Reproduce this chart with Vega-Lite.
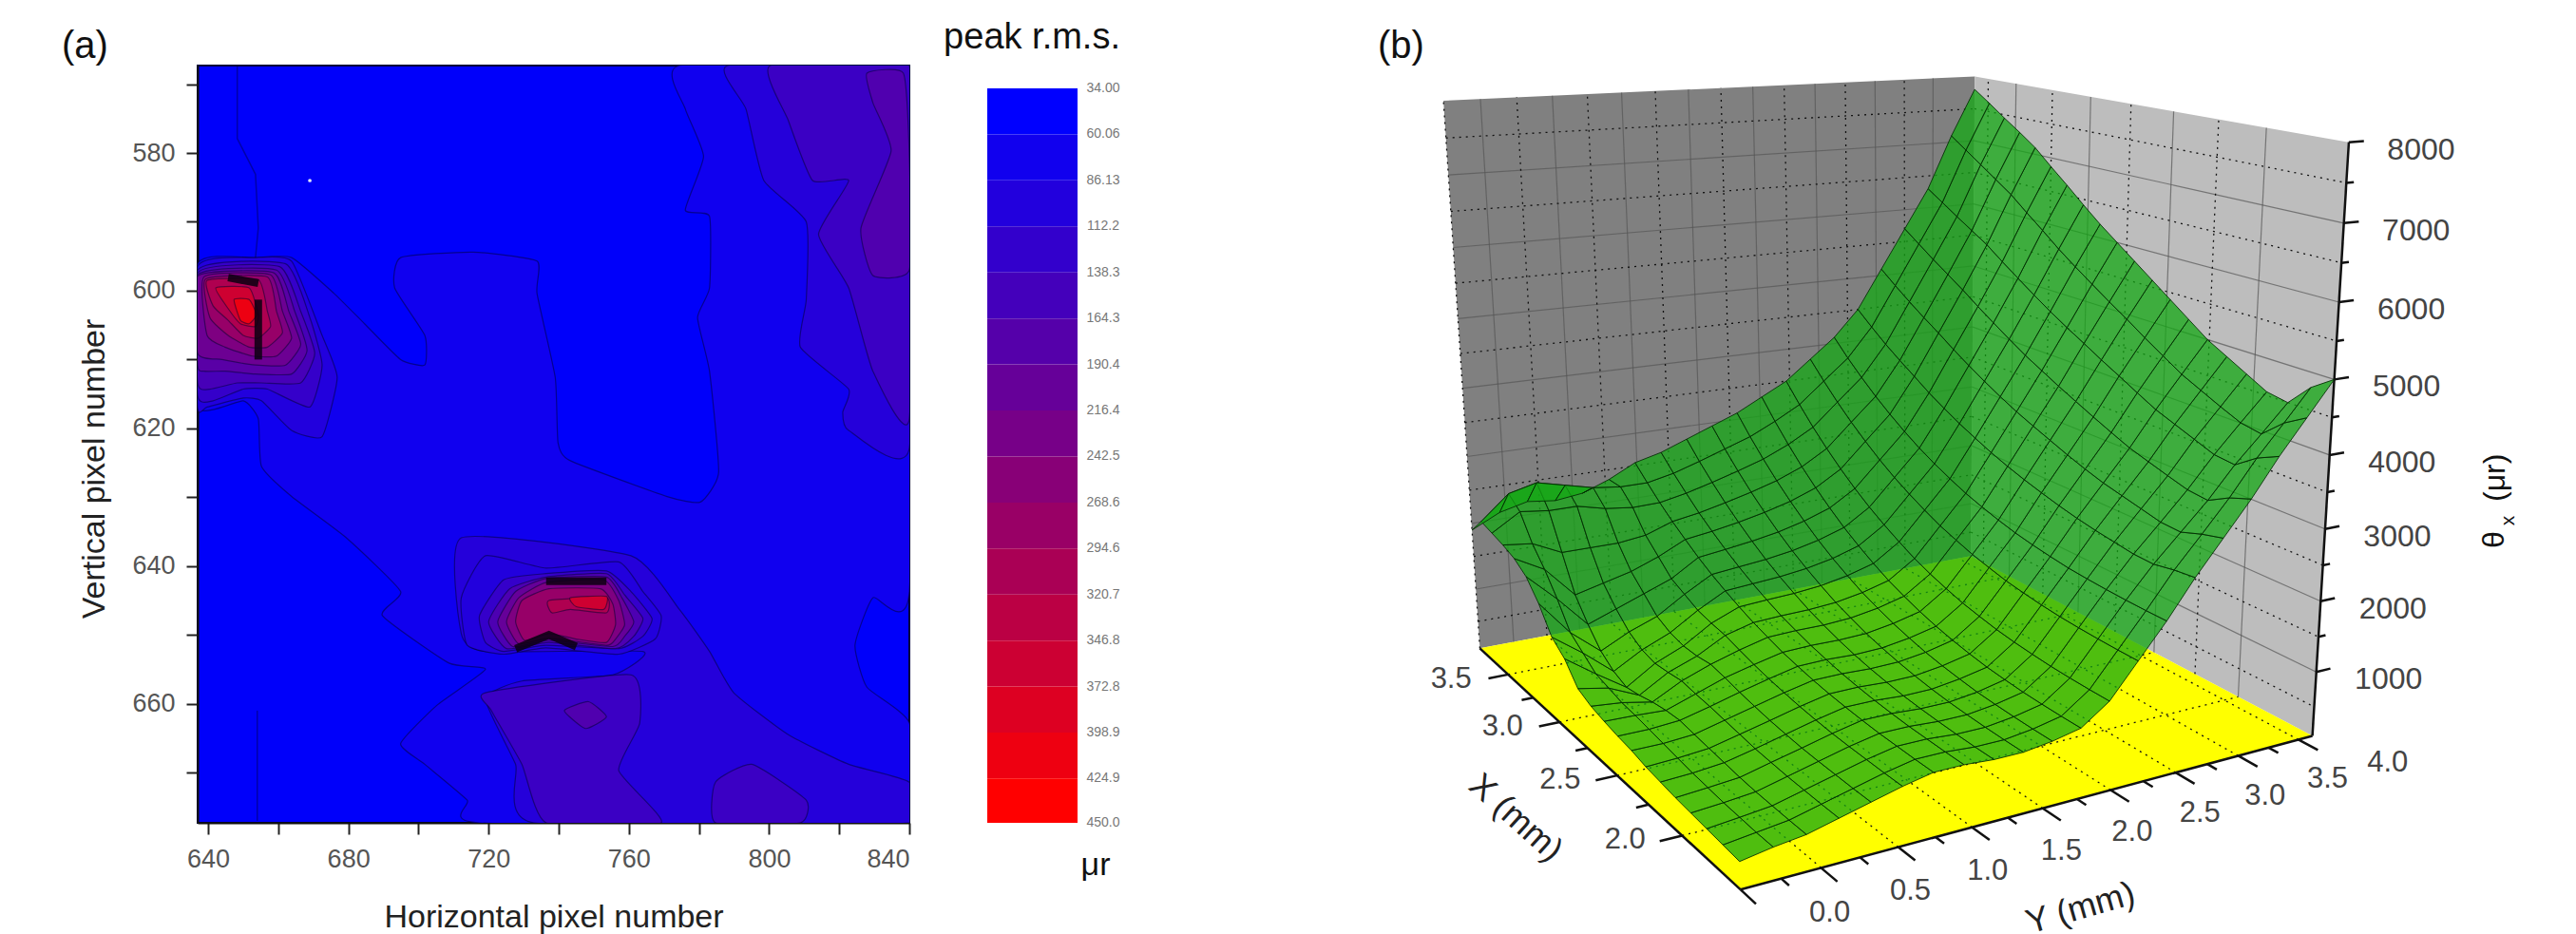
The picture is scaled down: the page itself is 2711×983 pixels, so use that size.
{"$schema":"https://vega.github.io/schema/vega-lite/v6.json","padding":{"left":64,"top":21,"right":0,"bottom":0},"bounds":"flush","spacing":82,"background":"white","config":{"view":{"stroke":null},"font":"Liberation Sans","title":{"font":"Liberation Sans","fontWeight":"normal","color":"#111"}},
"datasets":{
"contours":[
{"c":1,"v":60,"x":774.4,"y":567.3},{"c":1,"v":60,"x":840,"y":567.3},{"c":1,"v":60,"x":840,"y":643.7},{"c":1,"v":60,"x":829.6,"y":644.6},{"c":1,"v":60,"x":824.5,"y":651.5},{"c":1,"v":60,"x":827.9,"y":657.6},{"c":1,"v":60,"x":840,"y":662.8},{"c":1,"v":60,"x":840,"y":677.3},{"c":1,"v":60,"x":717.4,"y":677.3},{"c":1,"v":60,"x":713.9,"y":674},{"c":1,"v":60,"x":701.8,"y":668.8},{"c":1,"v":60,"x":694.9,"y":665.8},{"c":1,"v":60,"x":705.3,"y":660.2},{"c":1,"v":60,"x":719.1,"y":655},{"c":1,"v":60,"x":708.7,"y":654.1},{"c":1,"v":60,"x":689.7,"y":647.2},{"c":1,"v":60,"x":694.9,"y":643.7},{"c":1,"v":60,"x":679.4,"y":635.9},{"c":1,"v":60,"x":663.8,"y":629.9},{"c":1,"v":60,"x":655.2,"y":625.5},{"c":1,"v":60,"x":654.3,"y":618.6},{"c":1,"v":60,"x":650,"y":616},{"c":1,"v":60,"x":637,"y":616.9},{"c":1,"v":60,"x":637,"y":596.1},{"c":1,"v":60,"x":653.5,"y":595.2},{"c":1,"v":60,"x":663.8,"y":595.2},{"c":1,"v":60,"x":675.9,"y":600.4},{"c":1,"v":60,"x":684.6,"y":604.8},{"c":1,"v":60,"x":694.9,"y":610},{"c":1,"v":60,"x":701.8,"y":610.8},{"c":1,"v":60,"x":701.8,"y":606.5},{"c":1,"v":60,"x":693.2,"y":599.6},{"c":1,"v":60,"x":694.9,"y":595.2},{"c":1,"v":60,"x":715.6,"y":594.4},{"c":1,"v":60,"x":733.8,"y":595.7},{"c":1,"v":60,"x":733.8,"y":600.4},{"c":1,"v":60,"x":739,"y":612.6},{"c":1,"v":60,"x":739.8,"y":622.1},{"c":1,"v":60,"x":743.3,"y":624.7},{"c":1,"v":60,"x":770.9,"y":629.9},{"c":1,"v":60,"x":780.4,"y":630.7},{"c":1,"v":60,"x":785.6,"y":626.4},{"c":1,"v":60,"x":783,"y":611.7},{"c":1,"v":60,"x":779.6,"y":603.9},{"c":1,"v":60,"x":783,"y":599.6},{"c":1,"v":60,"x":783,"y":589.2},{"c":1,"v":60,"x":776.1,"y":588.3},{"c":1,"v":60,"x":781.3,"y":580.5},{"c":1,"v":60,"x":776.1,"y":573.6},
{"c":2,"v":95,"x":788.2,"y":567.3},{"c":2,"v":95,"x":840,"y":567.3},{"c":2,"v":95,"x":840,"y":622.9},{"c":2,"v":95,"x":822.7,"y":620.3},{"c":2,"v":95,"x":821,"y":617.7},{"c":2,"v":95,"x":822.7,"y":614.3},{"c":2,"v":95,"x":808.9,"y":608.2},{"c":2,"v":95,"x":810.6,"y":601.3},{"c":2,"v":95,"x":810.6,"y":590},{"c":2,"v":95,"x":798.5,"y":584},{"c":2,"v":95,"x":793.4,"y":573.6},
{"c":3,"v":130,"x":800.3,"y":567.3},{"c":3,"v":130,"x":840,"y":567.3},{"c":3,"v":130,"x":840,"y":618.6},{"c":3,"v":130,"x":829.6,"y":611.7},{"c":3,"v":130,"x":822.7,"y":599.6},{"c":3,"v":130,"x":814.1,"y":591.8},{"c":3,"v":130,"x":822.7,"y":584},{"c":3,"v":130,"x":812.4,"y":584},{"c":3,"v":130,"x":805.5,"y":575.3},
{"c":4,"v":165,"x":827.9,"y":568.4},{"c":4,"v":165,"x":838.3,"y":568.4},{"c":4,"v":165,"x":840,"y":580.5},{"c":4,"v":165,"x":840,"y":597},{"c":4,"v":165,"x":829.6,"y":597.8},{"c":4,"v":165,"x":826.2,"y":590.9},{"c":4,"v":165,"x":834.8,"y":579.7},{"c":4,"v":165,"x":829.6,"y":572.7},
{"c":5,"v":95,"x":712.2,"y":635.9},{"c":5,"v":95,"x":760.6,"y":638.5},{"c":5,"v":95,"x":774.4,"y":646.3},{"c":5,"v":95,"x":783,"y":652.4},{"c":5,"v":95,"x":789.9,"y":658.4},{"c":5,"v":95,"x":805.5,"y":664.5},{"c":5,"v":95,"x":822.7,"y":668.8},{"c":5,"v":95,"x":840,"y":671.4},{"c":5,"v":95,"x":840,"y":677.3},{"c":5,"v":95,"x":732.9,"y":677.3},{"c":5,"v":95,"x":727.7,"y":668.8},{"c":5,"v":95,"x":719.1,"y":659.3},{"c":5,"v":95,"x":729.5,"y":656.7},{"c":5,"v":95,"x":755.4,"y":655.8},{"c":5,"v":95,"x":764,"y":652.4},{"c":5,"v":95,"x":719.1,"y":652.4},{"c":5,"v":95,"x":712.2,"y":649.8},
{"c":6,"v":130,"x":719.1,"y":658.4},{"c":6,"v":130,"x":760.6,"y":655.8},{"c":6,"v":130,"x":763.1,"y":662.8},{"c":6,"v":130,"x":757.1,"y":669.7},{"c":6,"v":130,"x":769.2,"y":677.3},{"c":6,"v":130,"x":736.4,"y":677.3},{"c":6,"v":130,"x":729.5,"y":668.8},{"c":6,"v":130,"x":720.8,"y":661},
{"c":7,"v":130,"x":784.7,"y":671.4},{"c":7,"v":130,"x":795.1,"y":668.8},{"c":7,"v":130,"x":810.6,"y":674},{"c":7,"v":130,"x":808.9,"y":677.3},{"c":7,"v":130,"x":784.7,"y":677.3},
{"c":8,"v":165,"x":741.6,"y":661},{"c":8,"v":165,"x":748.5,"y":659.7},{"c":8,"v":165,"x":753.6,"y":661.9},{"c":8,"v":165,"x":747.6,"y":663.6},
{"c":10,"v":90,"x":637,"y":596.5},{"c":10,"v":90,"x":653.5,"y":595.2},{"c":10,"v":90,"x":663.8,"y":595.7},{"c":10,"v":90,"x":672.5,"y":606.5},{"c":10,"v":90,"x":676.8,"y":612.6},{"c":10,"v":90,"x":672.5,"y":621.2},{"c":10,"v":90,"x":663.8,"y":620.3},{"c":10,"v":90,"x":655.2,"y":616},{"c":10,"v":90,"x":650,"y":615.6},{"c":10,"v":90,"x":639.7,"y":616.9},{"c":10,"v":90,"x":637,"y":616.9},
{"c":11,"v":120,"x":637,"y":597},{"c":11,"v":120,"x":662.1,"y":596.1},{"c":11,"v":120,"x":669,"y":603.9},{"c":11,"v":120,"x":672.5,"y":610.8},{"c":11,"v":120,"x":669,"y":616.9},{"c":11,"v":120,"x":656.9,"y":614.3},{"c":11,"v":120,"x":650,"y":614.3},{"c":11,"v":120,"x":641.4,"y":616},{"c":11,"v":120,"x":637,"y":615.2},
{"c":12,"v":150,"x":637,"y":597.4},{"c":12,"v":150,"x":660.4,"y":596.5},{"c":12,"v":150,"x":666.4,"y":603},{"c":12,"v":150,"x":670.4,"y":609.1},{"c":12,"v":150,"x":666.4,"y":613.4},{"c":12,"v":150,"x":655.2,"y":613.4},{"c":12,"v":150,"x":648.3,"y":613.4},{"c":12,"v":150,"x":640.5,"y":614.3},{"c":12,"v":150,"x":637,"y":613.4},
{"c":13,"v":180,"x":637,"y":597.7},{"c":13,"v":180,"x":659.5,"y":597},{"c":13,"v":180,"x":664.7,"y":603},{"c":13,"v":180,"x":668.2,"y":608.7},{"c":13,"v":180,"x":663.8,"y":612.1},{"c":13,"v":180,"x":653.5,"y":612.1},{"c":13,"v":180,"x":644.8,"y":611.7},{"c":13,"v":180,"x":638.8,"y":611.7},{"c":13,"v":180,"x":637,"y":610.8},
{"c":14,"v":210,"x":637,"y":597.9},{"c":14,"v":210,"x":658.7,"y":597.4},{"c":14,"v":210,"x":663,"y":603},{"c":14,"v":210,"x":666.4,"y":607.8},{"c":14,"v":210,"x":662.1,"y":610.8},{"c":14,"v":210,"x":653.5,"y":610.8},{"c":14,"v":210,"x":644,"y":610},{"c":14,"v":210,"x":637,"y":609.1},
{"c":15,"v":240,"x":638.8,"y":598},{"c":15,"v":240,"x":657.8,"y":597.7},{"c":15,"v":240,"x":661.2,"y":603},{"c":15,"v":240,"x":663.8,"y":606.9},{"c":15,"v":240,"x":659.5,"y":609.5},{"c":15,"v":240,"x":652.6,"y":609.5},{"c":15,"v":240,"x":644.8,"y":608.2},{"c":15,"v":240,"x":639.7,"y":606.5},
{"c":16,"v":280,"x":639.3,"y":598.3},{"c":16,"v":280,"x":656.9,"y":598},{"c":16,"v":280,"x":659.5,"y":603},{"c":16,"v":280,"x":661.2,"y":606.1},{"c":16,"v":280,"x":656.9,"y":608.2},{"c":16,"v":280,"x":651.7,"y":608.2},{"c":16,"v":280,"x":645.7,"y":606.5},{"c":16,"v":280,"x":640.5,"y":603.9},
{"c":17,"v":320,"x":639.7,"y":598.5},{"c":17,"v":320,"x":654.3,"y":598.4},{"c":17,"v":320,"x":656.9,"y":603},{"c":17,"v":320,"x":657.8,"y":605.2},{"c":17,"v":320,"x":654.3,"y":606.9},{"c":17,"v":320,"x":650,"y":606.5},{"c":17,"v":320,"x":645.7,"y":604.3},{"c":17,"v":320,"x":641.4,"y":602.2},
{"c":18,"v":370,"x":642.2,"y":599.6},{"c":18,"v":370,"x":651.7,"y":599.6},{"c":18,"v":370,"x":654.3,"y":603.5},{"c":18,"v":370,"x":653.5,"y":605.2},{"c":18,"v":370,"x":649.2,"y":604.8},{"c":18,"v":370,"x":645.7,"y":602.6},
{"c":19,"v":420,"x":647.4,"y":601.3},{"c":19,"v":420,"x":651.7,"y":601.3},{"c":19,"v":420,"x":653.8,"y":603.5},{"c":19,"v":420,"x":651.7,"y":604.8},{"c":19,"v":420,"x":649.2,"y":604.3},
{"c":20,"v":90,"x":712.2,"y":644.6},{"c":20,"v":90,"x":719.1,"y":638.5},{"c":20,"v":90,"x":736.4,"y":640.3},{"c":20,"v":90,"x":757.1,"y":639.4},{"c":20,"v":90,"x":764,"y":643.7},{"c":20,"v":90,"x":769.2,"y":647.2},{"c":20,"v":90,"x":767.5,"y":650.6},{"c":20,"v":90,"x":757.1,"y":652.8},{"c":20,"v":90,"x":736.4,"y":651.9},{"c":20,"v":90,"x":724.3,"y":652.8},{"c":20,"v":90,"x":713.9,"y":651.5},
{"c":21,"v":120,"x":717.4,"y":647.2},{"c":21,"v":120,"x":724.3,"y":642},{"c":21,"v":120,"x":736.4,"y":641.1},{"c":21,"v":120,"x":753.6,"y":640.7},{"c":21,"v":120,"x":760.6,"y":643.7},{"c":21,"v":120,"x":766.6,"y":647.6},{"c":21,"v":120,"x":764,"y":650.2},{"c":21,"v":120,"x":757.1,"y":652},{"c":21,"v":120,"x":736.4,"y":651.5},{"c":21,"v":120,"x":724.3,"y":652.4},{"c":21,"v":120,"x":719.1,"y":651.1},
{"c":22,"v":160,"x":720,"y":648.1},{"c":22,"v":160,"x":726,"y":643.3},{"c":22,"v":160,"x":736.4,"y":641.6},{"c":22,"v":160,"x":753.6,"y":641.1},{"c":22,"v":160,"x":758.8,"y":644.2},{"c":22,"v":160,"x":764,"y":647.6},{"c":22,"v":160,"x":761.4,"y":650.2},{"c":22,"v":160,"x":756.2,"y":652},{"c":22,"v":160,"x":737.2,"y":651.1},{"c":22,"v":160,"x":725.1,"y":652},
{"c":23,"v":200,"x":722.6,"y":648.1},{"c":23,"v":200,"x":727.7,"y":643.7},{"c":23,"v":200,"x":736.4,"y":641.8},{"c":23,"v":200,"x":753.6,"y":641.6},{"c":23,"v":200,"x":758,"y":644.6},{"c":23,"v":200,"x":761.4,"y":648.1},{"c":23,"v":200,"x":758.8,"y":650.2},{"c":23,"v":200,"x":755.4,"y":651.7},{"c":23,"v":200,"x":737.2,"y":650.8},{"c":23,"v":200,"x":726.9,"y":651.7},
{"c":24,"v":240,"x":725.1,"y":648.1},{"c":24,"v":240,"x":728.6,"y":644.6},{"c":24,"v":240,"x":736.4,"y":642.4},{"c":24,"v":240,"x":752.8,"y":642},{"c":24,"v":240,"x":757.1,"y":645},{"c":24,"v":240,"x":758.8,"y":648.5},{"c":24,"v":240,"x":756.2,"y":650.6},{"c":24,"v":240,"x":753.6,"y":651.5},{"c":24,"v":240,"x":737.2,"y":650.5},{"c":24,"v":240,"x":728.6,"y":651.3},
{"c":25,"v":280,"x":727.7,"y":648.1},{"c":25,"v":280,"x":729.5,"y":645},{"c":25,"v":280,"x":737.2,"y":643.3},{"c":25,"v":280,"x":751.9,"y":643.3},{"c":25,"v":280,"x":755.4,"y":645.5},{"c":25,"v":280,"x":756.2,"y":648.5},{"c":25,"v":280,"x":753.6,"y":651.1},{"c":25,"v":280,"x":745,"y":650.6},{"c":25,"v":280,"x":737.2,"y":649.8},{"c":25,"v":280,"x":730.3,"y":650.8},
{"c":26,"v":320,"x":737.2,"y":645},{"c":26,"v":320,"x":753.6,"y":644.6},{"c":26,"v":320,"x":753.6,"y":646.8},{"c":26,"v":320,"x":743.3,"y":646.3},{"c":26,"v":320,"x":738.1,"y":646.8},
{"c":27,"v":370,"x":743.3,"y":644.6},{"c":27,"v":370,"x":753.6,"y":644.4},{"c":27,"v":370,"x":752.8,"y":646.3},{"c":27,"v":370,"x":745,"y":645.9}
],
"heavy":[
{"c":1,"x":654.3,"y":601.3},{"c":1,"x":654.3,"y":610},
{"c":2,"x":645.7,"y":598.1},{"c":2,"x":654.3,"y":598.9},
{"c":3,"x":736.4,"y":642.2},{"c":3,"x":753.6,"y":642.2},
{"c":4,"x":727.7,"y":652},{"c":4,"x":737.2,"y":650},{"c":4,"x":745,"y":651.7}
],
"thin":[
{"c":1,"x":648.3,"y":567.3},{"c":1,"x":648.3,"y":577.9},{"c":1,"x":653.5,"y":583.1},{"c":1,"x":654.3,"y":590.9},{"c":1,"x":653.5,"y":595.2},
{"c":2,"x":654,"y":661},{"c":2,"x":654,"y":677}
],
"spot":[{"x":669,"y":584}],
"bands":[{"lo":34,"hi":60.06},{"lo":60.06,"hi":86.13},{"lo":86.13,"hi":112.2},{"lo":112.2,"hi":138.3},{"lo":138.3,"hi":164.3},{"lo":164.3,"hi":190.4},{"lo":190.4,"hi":216.4},{"lo":216.4,"hi":242.5},{"lo":242.5,"hi":268.6},{"lo":268.6,"hi":294.6},{"lo":294.6,"hi":320.7},{"lo":320.7,"hi":346.8},{"lo":346.8,"hi":372.8},{"lo":372.8,"hi":398.9},{"lo":398.9,"hi":424.9},{"lo":424.9,"hi":450}],
"levels":[{"t":"34.00","v":34},{"t":"60.06","v":60.06},{"t":"86.13","v":86.13},{"t":"112.2","v":112.2},{"t":"138.3","v":138.3},{"t":"164.3","v":164.3},{"t":"190.4","v":190.4},{"t":"216.4","v":216.4},{"t":"242.5","v":242.5},{"t":"268.6","v":268.6},{"t":"294.6","v":294.6},{"t":"320.7","v":320.7},{"t":"346.8","v":346.8},{"t":"372.8","v":372.8},{"t":"398.9","v":398.9},{"t":"424.9","v":424.9},{"t":"450.0","v":450}],
"lines":[
{"k":"wl","X":[3.8,3.8,3.8,3.8],"Y":[0,4.12,4.12,0],"Z":[80,80,8000,8000]},{"k":"wr","X":[3.8,1.6,1.6,3.8],"Y":[4.12,4.12,4.12,4.12],"Z":[80,80,8000,8000]},{"k":"wf","X":[1.6,3.8,3.8,1.6],"Y":[0,0,4.12,4.12],"Z":[80,80,80,80]},
{"k":"g","X":[3.8,3.8],"Y":[0.25,0.25],"Z":[80,8000]},{"k":"g","X":[3.8,3.8],"Y":[0.75,0.75],"Z":[80,8000]},{"k":"g","X":[3.8,3.8],"Y":[1.25,1.25],"Z":[80,8000]},{"k":"g","X":[3.8,3.8],"Y":[1.75,1.75],"Z":[80,8000]},{"k":"g","X":[3.8,3.8],"Y":[2.25,2.25],"Z":[80,8000]},{"k":"g","X":[3.8,3.8],"Y":[2.75,2.75],"Z":[80,8000]},{"k":"g","X":[3.8,3.8],"Y":[3.25,3.25],"Z":[80,8000]},{"k":"g","X":[3.8,3.8],"Y":[3.75,3.75],"Z":[80,8000]},
{"k":"g","X":[2,2],"Y":[4.12,4.12],"Z":[80,8000]},{"k":"g","X":[2.5,2.5],"Y":[4.12,4.12],"Z":[80,8000]},{"k":"g","X":[3,3],"Y":[4.12,4.12],"Z":[80,8000]},{"k":"g","X":[3.5,3.5],"Y":[4.12,4.12],"Z":[80,8000]},
{"k":"g","X":[3.8,3.8],"Y":[0,4.12],"Z":[1000,1000]},{"k":"g","X":[3.8,3.8],"Y":[0,4.12],"Z":[2000,2000]},{"k":"g","X":[3.8,3.8],"Y":[0,4.12],"Z":[3000,3000]},{"k":"g","X":[3.8,3.8],"Y":[0,4.12],"Z":[4000,4000]},{"k":"g","X":[3.8,3.8],"Y":[0,4.12],"Z":[5000,5000]},{"k":"g","X":[3.8,3.8],"Y":[0,4.12],"Z":[6000,6000]},{"k":"g","X":[3.8,3.8],"Y":[0,4.12],"Z":[7000,7000]},
{"k":"g","X":[3.8,1.6],"Y":[4.12,4.12],"Z":[1000,1000]},{"k":"g","X":[3.8,1.6],"Y":[4.12,4.12],"Z":[2000,2000]},{"k":"g","X":[3.8,1.6],"Y":[4.12,4.12],"Z":[3000,3000]},{"k":"g","X":[3.8,1.6],"Y":[4.12,4.12],"Z":[4000,4000]},{"k":"g","X":[3.8,1.6],"Y":[4.12,4.12],"Z":[5000,5000]},{"k":"g","X":[3.8,1.6],"Y":[4.12,4.12],"Z":[6000,6000]},{"k":"g","X":[3.8,1.6],"Y":[4.12,4.12],"Z":[7000,7000]},
{"k":"d","X":[3.8,3.8],"Y":[0,0],"Z":[80,8000]},{"k":"d","X":[3.8,3.8],"Y":[0.5,0.5],"Z":[80,8000]},{"k":"d","X":[3.8,3.8],"Y":[1,1],"Z":[80,8000]},{"k":"d","X":[3.8,3.8],"Y":[1.5,1.5],"Z":[80,8000]},{"k":"d","X":[3.8,3.8],"Y":[2,2],"Z":[80,8000]},{"k":"d","X":[3.8,3.8],"Y":[2.5,2.5],"Z":[80,8000]},{"k":"d","X":[3.8,3.8],"Y":[3,3],"Z":[80,8000]},{"k":"d","X":[3.8,3.8],"Y":[3.5,3.5],"Z":[80,8000]},
{"k":"d","X":[2.25,2.25],"Y":[4.12,4.12],"Z":[80,8000]},{"k":"d","X":[2.75,2.75],"Y":[4.12,4.12],"Z":[80,8000]},{"k":"d","X":[3.25,3.25],"Y":[4.12,4.12],"Z":[80,8000]},{"k":"d","X":[3.7,3.7],"Y":[4.12,4.12],"Z":[80,8000]},
{"k":"d","X":[3.8,3.8],"Y":[0,4.12],"Z":[500,500]},{"k":"d","X":[3.8,3.8],"Y":[0,4.12],"Z":[1500,1500]},{"k":"d","X":[3.8,3.8],"Y":[0,4.12],"Z":[2500,2500]},{"k":"d","X":[3.8,3.8],"Y":[0,4.12],"Z":[3500,3500]},{"k":"d","X":[3.8,3.8],"Y":[0,4.12],"Z":[4500,4500]},{"k":"d","X":[3.8,3.8],"Y":[0,4.12],"Z":[5500,5500]},{"k":"d","X":[3.8,3.8],"Y":[0,4.12],"Z":[6500,6500]},{"k":"d","X":[3.8,3.8],"Y":[0,4.12],"Z":[7500,7500]},
{"k":"d","X":[3.8,1.6],"Y":[4.12,4.12],"Z":[500,500]},{"k":"d","X":[3.8,1.6],"Y":[4.12,4.12],"Z":[1500,1500]},{"k":"d","X":[3.8,1.6],"Y":[4.12,4.12],"Z":[2500,2500]},{"k":"d","X":[3.8,1.6],"Y":[4.12,4.12],"Z":[3500,3500]},{"k":"d","X":[3.8,1.6],"Y":[4.12,4.12],"Z":[4500,4500]},{"k":"d","X":[3.8,1.6],"Y":[4.12,4.12],"Z":[5500,5500]},{"k":"d","X":[3.8,1.6],"Y":[4.12,4.12],"Z":[6500,6500]},{"k":"d","X":[3.8,1.6],"Y":[4.12,4.12],"Z":[7500,7500]},
{"k":"d","X":[2,2],"Y":[0,4.12],"Z":[80,80]},{"k":"d","X":[2.5,2.5],"Y":[0,4.12],"Z":[80,80]},{"k":"d","X":[3,3],"Y":[0,4.12],"Z":[80,80]},{"k":"d","X":[3.5,3.5],"Y":[0,4.12],"Z":[80,80]},
{"k":"d","X":[1.6,3.8],"Y":[0.5,0.5],"Z":[80,80]},{"k":"d","X":[1.6,3.8],"Y":[1,1],"Z":[80,80]},{"k":"d","X":[1.6,3.8],"Y":[1.5,1.5],"Z":[80,80]},{"k":"d","X":[1.6,3.8],"Y":[2,2],"Z":[80,80]},{"k":"d","X":[1.6,3.8],"Y":[2.5,2.5],"Z":[80,80]},{"k":"d","X":[1.6,3.8],"Y":[3,3],"Z":[80,80]},{"k":"d","X":[1.6,3.8],"Y":[3.5,3.5],"Z":[80,80]},{"k":"d","X":[1.6,3.8],"Y":[4,4],"Z":[80,80]},
{"k":"a","X":[1.6,3.8],"Y":[0,0],"Z":[80,80]},{"k":"a","X":[1.6,1.6],"Y":[0,4.12],"Z":[80,80]},{"k":"a","X":[1.6,1.6],"Y":[4.12,4.12],"Z":[80,8000]},
{"k":"a","X":[1.6,1.6],"Y":[4.12,4.24],"Z":[1000,1000]},{"k":"a","X":[1.6,1.6],"Y":[4.12,4.24],"Z":[2000,2000]},{"k":"a","X":[1.6,1.6],"Y":[4.12,4.24],"Z":[3000,3000]},{"k":"a","X":[1.6,1.6],"Y":[4.12,4.24],"Z":[4000,4000]},{"k":"a","X":[1.6,1.6],"Y":[4.12,4.24],"Z":[5000,5000]},{"k":"a","X":[1.6,1.6],"Y":[4.12,4.24],"Z":[6000,6000]},{"k":"a","X":[1.6,1.6],"Y":[4.12,4.24],"Z":[7000,7000]},{"k":"a","X":[1.6,1.6],"Y":[4.12,4.24],"Z":[8000,8000]},
{"k":"a","X":[1.6,1.6],"Y":[4.12,4.18],"Z":[1500,1500]},{"k":"a","X":[1.6,1.6],"Y":[4.12,4.18],"Z":[2500,2500]},{"k":"a","X":[1.6,1.6],"Y":[4.12,4.18],"Z":[3500,3500]},{"k":"a","X":[1.6,1.6],"Y":[4.12,4.18],"Z":[4500,4500]},{"k":"a","X":[1.6,1.6],"Y":[4.12,4.18],"Z":[5500,5500]},{"k":"a","X":[1.6,1.6],"Y":[4.12,4.18],"Z":[6500,6500]},{"k":"a","X":[1.6,1.6],"Y":[4.12,4.18],"Z":[7500,7500]},
{"k":"a","X":[2,2],"Y":[0,-0.14],"Z":[80,80]},{"k":"a","X":[2.5,2.5],"Y":[0,-0.14],"Z":[80,80]},{"k":"a","X":[3,3],"Y":[0,-0.14],"Z":[80,80]},{"k":"a","X":[3.5,3.5],"Y":[0,-0.14],"Z":[80,80]},{"k":"a","X":[2.25,2.25],"Y":[0,-0.08],"Z":[80,80]},{"k":"a","X":[2.75,2.75],"Y":[0,-0.08],"Z":[80,80]},{"k":"a","X":[3.25,3.25],"Y":[0,-0.08],"Z":[80,80]},
{"k":"a","X":[1.6,1.5],"Y":[0,0],"Z":[80,80]},{"k":"a","X":[1.6,1.5],"Y":[0.5,0.5],"Z":[80,80]},{"k":"a","X":[1.6,1.5],"Y":[1,1],"Z":[80,80]},{"k":"a","X":[1.6,1.5],"Y":[1.5,1.5],"Z":[80,80]},{"k":"a","X":[1.6,1.5],"Y":[2,2],"Z":[80,80]},{"k":"a","X":[1.6,1.5],"Y":[2.5,2.5],"Z":[80,80]},{"k":"a","X":[1.6,1.5],"Y":[3,3],"Z":[80,80]},{"k":"a","X":[1.6,1.5],"Y":[3.5,3.5],"Z":[80,80]},{"k":"a","X":[1.6,1.5],"Y":[4,4],"Z":[80,80]},
{"k":"a","X":[1.6,1.55],"Y":[0.25,0.25],"Z":[80,80]},{"k":"a","X":[1.6,1.55],"Y":[0.75,0.75],"Z":[80,80]},{"k":"a","X":[1.6,1.55],"Y":[1.25,1.25],"Z":[80,80]},{"k":"a","X":[1.6,1.55],"Y":[1.75,1.75],"Z":[80,80]},{"k":"a","X":[1.6,1.55],"Y":[2.25,2.25],"Z":[80,80]},{"k":"a","X":[1.6,1.55],"Y":[2.75,2.75],"Z":[80,80]},{"k":"a","X":[1.6,1.55],"Y":[3.25,3.25],"Z":[80,80]},{"k":"a","X":[1.6,1.55],"Y":[3.75,3.75],"Z":[80,80]}
],
"labels":[
{"a":"z","t":"1000","X":1.6,"Y":4.12,"Z":1000},{"a":"z","t":"2000","X":1.6,"Y":4.12,"Z":2000},{"a":"z","t":"3000","X":1.6,"Y":4.12,"Z":3000},{"a":"z","t":"4000","X":1.6,"Y":4.12,"Z":4000},{"a":"z","t":"5000","X":1.6,"Y":4.12,"Z":5000},{"a":"z","t":"6000","X":1.6,"Y":4.12,"Z":6000},{"a":"z","t":"7000","X":1.6,"Y":4.12,"Z":7000},{"a":"z","t":"8000","X":1.6,"Y":4.12,"Z":8000},
{"a":"x","t":"2.0","X":2,"Y":0,"Z":80},{"a":"x","t":"2.5","X":2.5,"Y":0,"Z":80},{"a":"x","t":"3.0","X":3,"Y":0,"Z":80},{"a":"x","t":"3.5","X":3.5,"Y":0,"Z":80},
{"a":"y","t":"0.0","X":1.6,"Y":0,"Z":80},{"a":"y","t":"0.5","X":1.6,"Y":0.5,"Z":80},{"a":"y","t":"1.0","X":1.6,"Y":1,"Z":80},{"a":"y","t":"1.5","X":1.6,"Y":1.5,"Z":80},{"a":"y","t":"2.0","X":1.6,"Y":2,"Z":80},{"a":"y","t":"2.5","X":1.6,"Y":2.5,"Z":80},{"a":"y","t":"3.0","X":1.6,"Y":3,"Z":80},{"a":"y","t":"3.5","X":1.6,"Y":3.5,"Z":80},{"a":"y","t":"4.0","X":1.6,"Y":4,"Z":80},
{"a":"tx","t":"X (mm)","X":2.37,"Y":-0.74,"Z":80},{"a":"ty","t":"Y (mm)","X":1.006,"Y":1.483,"Z":80},
{"a":"tz","t":"θ","X":1.6,"Y":5.65,"Z":2337},{"a":"tz","t":"(μr)","X":1.6,"Y":5.61,"Z":3248},{"a":"ts","t":"x","X":1.6,"Y":5.77,"Z":2575}
],
"surface":[
{"x":1.6,"y":0,"z":430},{"x":1.6,"y":0.206,"z":500},{"x":1.6,"y":0.412,"z":550},{"x":1.6,"y":0.618,"z":650},{"x":1.6,"y":0.824,"z":750},{"x":1.6,"y":1.03,"z":850},{"x":1.6,"y":1.236,"z":930},{"x":1.6,"y":1.442,"z":930},{"x":1.6,"y":1.648,"z":900},{"x":1.6,"y":1.854,"z":900},{"x":1.6,"y":2.06,"z":950},{"x":1.6,"y":2.266,"z":1030},{"x":1.6,"y":2.472,"z":1300},{"x":1.6,"y":2.678,"z":1750},{"x":1.6,"y":2.884,"z":2200},{"x":1.6,"y":3.09,"z":2700},{"x":1.6,"y":3.296,"z":3150},{"x":1.6,"y":3.502,"z":3600},{"x":1.6,"y":3.708,"z":4100},{"x":1.6,"y":3.914,"z":4550},{"x":1.6,"y":4.12,"z":5000},
{"x":1.71,"y":0,"z":450},{"x":1.71,"y":0.206,"z":500},{"x":1.71,"y":0.412,"z":550},{"x":1.71,"y":0.618,"z":650},{"x":1.71,"y":0.824,"z":750},{"x":1.71,"y":1.03,"z":850},{"x":1.71,"y":1.236,"z":930},{"x":1.71,"y":1.442,"z":930},{"x":1.71,"y":1.648,"z":900},{"x":1.71,"y":1.854,"z":900},{"x":1.71,"y":2.06,"z":950},{"x":1.71,"y":2.266,"z":1030},{"x":1.71,"y":2.472,"z":1300},{"x":1.71,"y":2.678,"z":1750},{"x":1.71,"y":2.884,"z":2200},{"x":1.71,"y":3.09,"z":2670},{"x":1.71,"y":3.296,"z":3080},{"x":1.71,"y":3.502,"z":3500},{"x":1.71,"y":3.708,"z":3970},{"x":1.71,"y":3.914,"z":4380},{"x":1.71,"y":4.12,"z":4800},
{"x":1.82,"y":0,"z":470},{"x":1.82,"y":0.206,"z":510},{"x":1.82,"y":0.412,"z":555},{"x":1.82,"y":0.618,"z":655},{"x":1.82,"y":0.824,"z":755},{"x":1.82,"y":1.03,"z":855},{"x":1.82,"y":1.236,"z":935},{"x":1.82,"y":1.442,"z":935},{"x":1.82,"y":1.648,"z":905},{"x":1.82,"y":1.854,"z":905},{"x":1.82,"y":2.06,"z":955},{"x":1.82,"y":2.266,"z":1035},{"x":1.82,"y":2.472,"z":1305},{"x":1.82,"y":2.678,"z":1755},{"x":1.82,"y":2.884,"z":2205},{"x":1.82,"y":3.09,"z":2620},{"x":1.82,"y":3.296,"z":2985},{"x":1.82,"y":3.502,"z":3350},{"x":1.82,"y":3.708,"z":3770},{"x":1.82,"y":3.914,"z":4130},{"x":1.82,"y":4.12,"z":4500},
{"x":1.93,"y":0,"z":490},{"x":1.93,"y":0.206,"z":520},{"x":1.93,"y":0.412,"z":560},{"x":1.93,"y":0.618,"z":660},{"x":1.93,"y":0.824,"z":760},{"x":1.93,"y":1.03,"z":860},{"x":1.93,"y":1.236,"z":940},{"x":1.93,"y":1.442,"z":940},{"x":1.93,"y":1.648,"z":915},{"x":1.93,"y":1.854,"z":915},{"x":1.93,"y":2.06,"z":965},{"x":1.93,"y":2.266,"z":1045},{"x":1.93,"y":2.472,"z":1315},{"x":1.93,"y":2.678,"z":1765},{"x":1.93,"y":2.884,"z":2215},{"x":1.93,"y":3.09,"z":2630},{"x":1.93,"y":3.296,"z":3000},{"x":1.93,"y":3.502,"z":3380},{"x":1.93,"y":3.708,"z":3800},{"x":1.93,"y":3.914,"z":4180},{"x":1.93,"y":4.12,"z":4550},
{"x":2.04,"y":0,"z":510},{"x":2.04,"y":0.206,"z":540},{"x":2.04,"y":0.412,"z":575},{"x":2.04,"y":0.618,"z":675},{"x":2.04,"y":0.824,"z":770},{"x":2.04,"y":1.03,"z":870},{"x":2.04,"y":1.236,"z":955},{"x":2.04,"y":1.442,"z":955},{"x":2.04,"y":1.648,"z":930},{"x":2.04,"y":1.854,"z":930},{"x":2.04,"y":2.06,"z":980},{"x":2.04,"y":2.266,"z":1065},{"x":2.04,"y":2.472,"z":1335},{"x":2.04,"y":2.678,"z":1780},{"x":2.04,"y":2.884,"z":2230},{"x":2.04,"y":3.09,"z":2670},{"x":2.04,"y":3.296,"z":3065},{"x":2.04,"y":3.502,"z":3460},{"x":2.04,"y":3.708,"z":3905},{"x":2.04,"y":3.914,"z":4300},{"x":2.04,"y":4.12,"z":4700},
{"x":2.15,"y":0,"z":540},{"x":2.15,"y":0.206,"z":560},{"x":2.15,"y":0.412,"z":600},{"x":2.15,"y":0.618,"z":690},{"x":2.15,"y":0.824,"z":790},{"x":2.15,"y":1.03,"z":890},{"x":2.15,"y":1.236,"z":975},{"x":2.15,"y":1.442,"z":975},{"x":2.15,"y":1.648,"z":950},{"x":2.15,"y":1.854,"z":955},{"x":2.15,"y":2.06,"z":1010},{"x":2.15,"y":2.266,"z":1090},{"x":2.15,"y":2.472,"z":1360},{"x":2.15,"y":2.678,"z":1805},{"x":2.15,"y":2.884,"z":2250},{"x":2.15,"y":3.09,"z":2710},{"x":2.15,"y":3.296,"z":3130},{"x":2.15,"y":3.502,"z":3545},{"x":2.15,"y":3.708,"z":4010},{"x":2.15,"y":3.914,"z":4430},{"x":2.15,"y":4.12,"z":4850},
{"x":2.26,"y":0,"z":570},{"x":2.26,"y":0.206,"z":590},{"x":2.26,"y":0.412,"z":625},{"x":2.26,"y":0.618,"z":720},{"x":2.26,"y":0.824,"z":815},{"x":2.26,"y":1.03,"z":915},{"x":2.26,"y":1.236,"z":1000},{"x":2.26,"y":1.442,"z":1005},{"x":2.26,"y":1.648,"z":985},{"x":2.26,"y":1.854,"z":990},{"x":2.26,"y":2.06,"z":1045},{"x":2.26,"y":2.266,"z":1130},{"x":2.26,"y":2.472,"z":1395},{"x":2.26,"y":2.678,"z":1840},{"x":2.26,"y":2.884,"z":2285},{"x":2.26,"y":3.09,"z":2760},{"x":2.26,"y":3.296,"z":3195},{"x":2.26,"y":3.502,"z":3630},{"x":2.26,"y":3.708,"z":4115},{"x":2.26,"y":3.914,"z":4560},{"x":2.26,"y":4.12,"z":5000},
{"x":2.37,"y":0,"z":620},{"x":2.37,"y":0.206,"z":620},{"x":2.37,"y":0.412,"z":650},{"x":2.37,"y":0.618,"z":750},{"x":2.37,"y":0.824,"z":850},{"x":2.37,"y":1.03,"z":950},{"x":2.37,"y":1.236,"z":1035},{"x":2.37,"y":1.442,"z":1040},{"x":2.37,"y":1.648,"z":1025},{"x":2.37,"y":1.854,"z":1035},{"x":2.37,"y":2.06,"z":1090},{"x":2.37,"y":2.266,"z":1180},{"x":2.37,"y":2.472,"z":1445},{"x":2.37,"y":2.678,"z":1880},{"x":2.37,"y":2.884,"z":2325},{"x":2.37,"y":3.09,"z":2820},{"x":2.37,"y":3.296,"z":3280},{"x":2.37,"y":3.502,"z":3745},{"x":2.37,"y":3.708,"z":4255},{"x":2.37,"y":3.914,"z":4730},{"x":2.37,"y":4.12,"z":5200},
{"x":2.48,"y":0,"z":650},{"x":2.48,"y":0.206,"z":650},{"x":2.48,"y":0.412,"z":680},{"x":2.48,"y":0.618,"z":780},{"x":2.48,"y":0.824,"z":890},{"x":2.48,"y":1.03,"z":990},{"x":2.48,"y":1.236,"z":1080},{"x":2.48,"y":1.442,"z":1090},{"x":2.48,"y":1.648,"z":1075},{"x":2.48,"y":1.854,"z":1090},{"x":2.48,"y":2.06,"z":1150},{"x":2.48,"y":2.266,"z":1240},{"x":2.48,"y":2.472,"z":1500},{"x":2.48,"y":2.678,"z":1940},{"x":2.48,"y":2.884,"z":2375},{"x":2.48,"y":3.09,"z":2890},{"x":2.48,"y":3.296,"z":3375},{"x":2.48,"y":3.502,"z":3865},{"x":2.48,"y":3.708,"z":4400},{"x":2.48,"y":3.914,"z":4900},{"x":2.48,"y":4.12,"z":5400},
{"x":2.59,"y":0,"z":690},{"x":2.59,"y":0.206,"z":680},{"x":2.59,"y":0.412,"z":660},{"x":2.59,"y":0.618,"z":800},{"x":2.59,"y":0.824,"z":940},{"x":2.59,"y":1.03,"z":1040},{"x":2.59,"y":1.236,"z":1130},{"x":2.59,"y":1.442,"z":1145},{"x":2.59,"y":1.648,"z":1140},{"x":2.59,"y":1.854,"z":1155},{"x":2.59,"y":2.06,"z":1220},{"x":2.59,"y":2.266,"z":1315},{"x":2.59,"y":2.472,"z":1575},{"x":2.59,"y":2.678,"z":2005},{"x":2.59,"y":2.884,"z":2440},{"x":2.59,"y":3.09,"z":2965},{"x":2.59,"y":3.296,"z":3480},{"x":2.59,"y":3.502,"z":3990},{"x":2.59,"y":3.708,"z":4540},{"x":2.59,"y":3.914,"z":5080},{"x":2.59,"y":4.12,"z":5600},
{"x":2.7,"y":0,"z":740},{"x":2.7,"y":0.206,"z":700},{"x":2.7,"y":0.412,"z":620},{"x":2.7,"y":0.618,"z":830},{"x":2.7,"y":0.824,"z":980},{"x":2.7,"y":1.03,"z":1100},{"x":2.7,"y":1.236,"z":1200},{"x":2.7,"y":1.442,"z":1215},{"x":2.7,"y":1.648,"z":1215},{"x":2.7,"y":1.854,"z":1240},{"x":2.7,"y":2.06,"z":1305},{"x":2.7,"y":2.266,"z":1405},{"x":2.7,"y":2.472,"z":1660},{"x":2.7,"y":2.678,"z":2090},{"x":2.7,"y":2.884,"z":2515},{"x":2.7,"y":3.09,"z":3050},{"x":2.7,"y":3.296,"z":3585},{"x":2.7,"y":3.502,"z":4115},{"x":2.7,"y":3.708,"z":4690},{"x":2.7,"y":3.914,"z":5250},{"x":2.7,"y":4.12,"z":5800},
{"x":2.81,"y":0,"z":830},{"x":2.81,"y":0.206,"z":750},{"x":2.81,"y":0.412,"z":560},{"x":2.81,"y":0.618,"z":800},{"x":2.81,"y":0.824,"z":950},{"x":2.81,"y":1.03,"z":1165},{"x":2.81,"y":1.236,"z":1270},{"x":2.81,"y":1.442,"z":1290},{"x":2.81,"y":1.648,"z":1300},{"x":2.81,"y":1.854,"z":1330},{"x":2.81,"y":2.06,"z":1400},{"x":2.81,"y":2.266,"z":1505},{"x":2.81,"y":2.472,"z":1760},{"x":2.81,"y":2.678,"z":2180},{"x":2.81,"y":2.884,"z":2600},{"x":2.81,"y":3.09,"z":3145},{"x":2.81,"y":3.296,"z":3695},{"x":2.81,"y":3.502,"z":4250},{"x":2.81,"y":3.708,"z":4835},{"x":2.81,"y":3.914,"z":5430},{"x":2.81,"y":4.12,"z":6000},
{"x":2.92,"y":0,"z":1100},{"x":2.92,"y":0.206,"z":800},{"x":2.92,"y":0.412,"z":520},{"x":2.92,"y":0.618,"z":780},{"x":2.92,"y":0.824,"z":950},{"x":2.92,"y":1.03,"z":1200},{"x":2.92,"y":1.236,"z":1360},{"x":2.92,"y":1.442,"z":1385},{"x":2.92,"y":1.648,"z":1405},{"x":2.92,"y":1.854,"z":1445},{"x":2.92,"y":2.06,"z":1520},{"x":2.92,"y":2.266,"z":1630},{"x":2.92,"y":2.472,"z":1885},{"x":2.92,"y":2.678,"z":2295},{"x":2.92,"y":2.884,"z":2705},{"x":2.92,"y":3.09,"z":3255},{"x":2.92,"y":3.296,"z":3820},{"x":2.92,"y":3.502,"z":4385},{"x":2.92,"y":3.708,"z":4990},{"x":2.92,"y":3.914,"z":5610},{"x":2.92,"y":4.12,"z":6200},
{"x":3.03,"y":0,"z":1260},{"x":3.03,"y":0.206,"z":950},{"x":3.03,"y":0.412,"z":600},{"x":3.03,"y":0.618,"z":830},{"x":3.03,"y":0.824,"z":1000},{"x":3.03,"y":1.03,"z":1250},{"x":3.03,"y":1.236,"z":1460},{"x":3.03,"y":1.442,"z":1490},{"x":3.03,"y":1.648,"z":1520},{"x":3.03,"y":1.854,"z":1570},{"x":3.03,"y":2.06,"z":1650},{"x":3.03,"y":2.266,"z":1770},{"x":3.03,"y":2.472,"z":2020},{"x":3.03,"y":2.678,"z":2420},{"x":3.03,"y":2.884,"z":2820},{"x":3.03,"y":3.09,"z":3370},{"x":3.03,"y":3.296,"z":3955},{"x":3.03,"y":3.502,"z":4540},{"x":3.03,"y":3.708,"z":5155},{"x":3.03,"y":3.914,"z":5800},{"x":3.03,"y":4.12,"z":6420},
{"x":3.14,"y":0,"z":1600},{"x":3.14,"y":0.206,"z":1100},{"x":3.14,"y":0.412,"z":750},{"x":3.14,"y":0.618,"z":950},{"x":3.14,"y":0.824,"z":1100},{"x":3.14,"y":1.03,"z":1350},{"x":3.14,"y":1.236,"z":1570},{"x":3.14,"y":1.442,"z":1610},{"x":3.14,"y":1.648,"z":1650},{"x":3.14,"y":1.854,"z":1710},{"x":3.14,"y":2.06,"z":1800},{"x":3.14,"y":2.266,"z":1925},{"x":3.14,"y":2.472,"z":2170},{"x":3.14,"y":2.678,"z":2560},{"x":3.14,"y":2.884,"z":2950},{"x":3.14,"y":3.09,"z":3500},{"x":3.14,"y":3.296,"z":4100},{"x":3.14,"y":3.502,"z":4700},{"x":3.14,"y":3.708,"z":5330},{"x":3.14,"y":3.914,"z":6010},{"x":3.14,"y":4.12,"z":6650},
{"x":3.25,"y":0,"z":1850},{"x":3.25,"y":0.206,"z":1450},{"x":3.25,"y":0.412,"z":1000},{"x":3.25,"y":0.618,"z":1150},{"x":3.25,"y":0.824,"z":1300},{"x":3.25,"y":1.03,"z":1450},{"x":3.25,"y":1.236,"z":1695},{"x":3.25,"y":1.442,"z":1745},{"x":3.25,"y":1.648,"z":1800},{"x":3.25,"y":1.854,"z":1870},{"x":3.25,"y":2.06,"z":1970},{"x":3.25,"y":2.266,"z":2105},{"x":3.25,"y":2.472,"z":2340},{"x":3.25,"y":2.678,"z":2720},{"x":3.25,"y":2.884,"z":3100},{"x":3.25,"y":3.09,"z":3640},{"x":3.25,"y":3.296,"z":4255},{"x":3.25,"y":3.502,"z":4865},{"x":3.25,"y":3.708,"z":5505},{"x":3.25,"y":3.914,"z":6210},{"x":3.25,"y":4.12,"z":6870},
{"x":3.36,"y":0,"z":1980},{"x":3.36,"y":0.206,"z":1750},{"x":3.36,"y":0.412,"z":1300},{"x":3.36,"y":0.618,"z":1400},{"x":3.36,"y":0.824,"z":1500},{"x":3.36,"y":1.03,"z":1650},{"x":3.36,"y":1.236,"z":1840},{"x":3.36,"y":1.442,"z":1895},{"x":3.36,"y":1.648,"z":1965},{"x":3.36,"y":1.854,"z":2050},{"x":3.36,"y":2.06,"z":2155},{"x":3.36,"y":2.266,"z":2300},{"x":3.36,"y":2.472,"z":2530},{"x":3.36,"y":2.678,"z":2900},{"x":3.36,"y":2.884,"z":3265},{"x":3.36,"y":3.09,"z":3800},{"x":3.36,"y":3.296,"z":4420},{"x":3.36,"y":3.502,"z":5040},{"x":3.36,"y":3.708,"z":5690},{"x":3.36,"y":3.914,"z":6420},{"x":3.36,"y":4.12,"z":7100},
{"x":3.47,"y":0,"z":2050},{"x":3.47,"y":0.206,"z":2000},{"x":3.47,"y":0.412,"z":1800},{"x":3.47,"y":0.618,"z":1800},{"x":3.47,"y":0.824,"z":1800},{"x":3.47,"y":1.03,"z":1850},{"x":3.47,"y":1.236,"z":1990},{"x":3.47,"y":1.442,"z":2055},{"x":3.47,"y":1.648,"z":2145},{"x":3.47,"y":1.854,"z":2245},{"x":3.47,"y":2.06,"z":2360},{"x":3.47,"y":2.266,"z":2515},{"x":3.47,"y":2.472,"z":2740},{"x":3.47,"y":2.678,"z":3095},{"x":3.47,"y":2.884,"z":3445},{"x":3.47,"y":3.09,"z":3955},{"x":3.47,"y":3.296,"z":4575},{"x":3.47,"y":3.502,"z":5200},{"x":3.47,"y":3.708,"z":5840},{"x":3.47,"y":3.914,"z":6590},{"x":3.47,"y":4.12,"z":7280},
{"x":3.58,"y":0,"z":2100},{"x":3.58,"y":0.206,"z":2350},{"x":3.58,"y":0.412,"z":2300},{"x":3.58,"y":0.618,"z":2300},{"x":3.58,"y":0.824,"z":2200},{"x":3.58,"y":1.03,"z":2150},{"x":3.58,"y":1.236,"z":2160},{"x":3.58,"y":1.442,"z":2240},{"x":3.58,"y":1.648,"z":2345},{"x":3.58,"y":1.854,"z":2460},{"x":3.58,"y":2.06,"z":2585},{"x":3.58,"y":2.266,"z":2755},{"x":3.58,"y":2.472,"z":2970},{"x":3.58,"y":2.678,"z":3310},{"x":3.58,"y":2.884,"z":3645},{"x":3.58,"y":3.09,"z":4120},{"x":3.58,"y":3.296,"z":4740},{"x":3.58,"y":3.502,"z":5360},{"x":3.58,"y":3.708,"z":5990},{"x":3.58,"y":3.914,"z":6760},{"x":3.58,"y":4.12,"z":7450},
{"x":3.69,"y":0,"z":2150},{"x":3.69,"y":0.206,"z":2500},{"x":3.69,"y":0.412,"z":2600},{"x":3.69,"y":0.618,"z":2500},{"x":3.69,"y":0.824,"z":2400},{"x":3.69,"y":1.03,"z":2350},{"x":3.69,"y":1.236,"z":2350},{"x":3.69,"y":1.442,"z":2435},{"x":3.69,"y":1.648,"z":2560},{"x":3.69,"y":1.854,"z":2695},{"x":3.69,"y":2.06,"z":2830},{"x":3.69,"y":2.266,"z":3015},{"x":3.69,"y":2.472,"z":3225},{"x":3.69,"y":2.678,"z":3545},{"x":3.69,"y":2.884,"z":3860},{"x":3.69,"y":3.09,"z":4305},{"x":3.69,"y":3.296,"z":4915},{"x":3.69,"y":3.502,"z":5530},{"x":3.69,"y":3.708,"z":6145},{"x":3.69,"y":3.914,"z":6930},{"x":3.69,"y":4.12,"z":7630},
{"x":3.8,"y":0,"z":1900},{"x":3.8,"y":0.206,"z":2100},{"x":3.8,"y":0.412,"z":2200},{"x":3.8,"y":0.618,"z":2150},{"x":3.8,"y":0.824,"z":2200},{"x":3.8,"y":1.03,"z":2350},{"x":3.8,"y":1.236,"z":2550},{"x":3.8,"y":1.442,"z":2650},{"x":3.8,"y":1.648,"z":2800},{"x":3.8,"y":1.854,"z":2950},{"x":3.8,"y":2.06,"z":3100},{"x":3.8,"y":2.266,"z":3300},{"x":3.8,"y":2.472,"z":3500},{"x":3.8,"y":2.678,"z":3800},{"x":3.8,"y":2.884,"z":4100},{"x":3.8,"y":3.09,"z":4500},{"x":3.8,"y":3.296,"z":5100},{"x":3.8,"y":3.502,"z":5700},{"x":3.8,"y":3.708,"z":6300},{"x":3.8,"y":3.914,"z":7100},{"x":3.8,"y":4.12,"z":7800}
]
},
"hconcat":[
{"width":749,"height":797,"view":{"fill":"#0000fa","stroke":"#00003a","strokeWidth":2},
"title":{"text":"(a)","anchor":"start","frame":"group","dx":-143,"offset":0,"fontSize":40},
"layer":[
{"data":{"name":"contours"},"transform":[{"window":[{"op":"row_number","as":"s"}]}],"mark":{"type":"line","interpolate":"cardinal-closed","tension":0.5,"stroke":"#000030","strokeWidth":1.2,"strokeOpacity":0.5,"clip":true},
"encoding":{"x":{"field":"x","type":"quantitative","scale":{"domain":[637,840],"nice":false,"zero":false},"axis":{"title":"Horizontal pixel number","values":[640,660,680,700,720,740,760,780,800,820,840],"labelExpr":"datum.value%40==0?datum.label:''","labelFontSize":27,"labelColor":"#555","tickSize":12,"tickWidth":2,"tickColor":"#222","labelPadding":13,"grid":false,"domainColor":"#111","domainWidth":2,"titleFontSize":34,"titleFontWeight":"normal","titleColor":"#222","titlePadding":31}},
"y":{"field":"y","type":"quantitative","scale":{"domain":[567.3,677.3],"reverse":true,"nice":false,"zero":false},"axis":{"title":"Vertical pixel number","values":[570,580,590,600,610,620,630,640,650,660,670],"labelExpr":"datum.value%20==0?datum.label:''","labelFontSize":27,"labelColor":"#555","tickSize":12,"tickWidth":2,"tickColor":"#222","labelPadding":12,"grid":false,"domainColor":"#111","domainWidth":2,"titleFontSize":34,"titleFontWeight":"normal","titleColor":"#222","titlePadding":22,"titleY":424}},
"fill":{"field":"v","type":"quantitative","scale":{"domain":[34,450],"range":["#0000ff","#ff0000"],"interpolate":"rgb"},"legend":null},
"detail":{"field":"c"},"order":{"field":"s"}}},
{"data":{"name":"thin"},"transform":[{"window":[{"op":"row_number","as":"s"}]}],"mark":{"type":"line","stroke":"#000030","strokeWidth":1.5,"strokeOpacity":0.4,"clip":true},"encoding":{"x":{"field":"x","type":"quantitative"},"y":{"field":"y","type":"quantitative"},"detail":{"field":"c"},"order":{"field":"s"}}},
{"data":{"name":"heavy"},"transform":[{"window":[{"op":"row_number","as":"s"}]}],"mark":{"type":"line","stroke":"#0a0010","strokeWidth":8,"strokeOpacity":0.85,"clip":true},"encoding":{"x":{"field":"x","type":"quantitative"},"y":{"field":"y","type":"quantitative"},"detail":{"field":"c"},"order":{"field":"s"}}},
{"data":{"name":"spot"},"mark":{"type":"point","filled":true,"color":"#dfe6ff","size":14,"opacity":1},"encoding":{"x":{"field":"x","type":"quantitative"},"y":{"field":"y","type":"quantitative"}}}
]},
{"width":280,"height":797,
"layer":[
{"data":{"name":"bands"},"mark":{"type":"rect"},"encoding":{"x":{"datum":0,"type":"quantitative","scale":{"domain":[0,2.947],"nice":false,"zero":false},"axis":null},"x2":{"datum":1},"y":{"field":"lo","type":"quantitative","scale":{"domain":[21.08,450],"reverse":true,"nice":false,"zero":false},"axis":null},"y2":{"field":"hi"},"fill":{"field":"lo","type":"quantitative","scale":{"domain":[34,424.9],"range":["#0000ff","#ff0000"],"interpolate":"rgb"},"legend":null}}},
{"data":{"name":"levels"},"mark":{"type":"text","fontSize":14,"color":"#777","dx":27,"align":"center","baseline":"middle"},"encoding":{"x":{"datum":1,"type":"quantitative"},"y":{"field":"v","type":"quantitative"},"text":{"field":"t"}}},
{"data":{"values":[{"t":"peak r.m.s.","v":5.5}]},"mark":{"type":"text","fontSize":38,"color":"#111","align":"center","baseline":"middle"},"encoding":{"x":{"datum":0.495,"type":"quantitative"},"y":{"field":"v","type":"quantitative"},"text":{"field":"t"}}},
{"data":{"values":[{"t":"μr","v":474}]},"mark":{"type":"text","fontSize":34,"color":"#111","align":"center","baseline":"middle"},"encoding":{"x":{"datum":1.2,"type":"quantitative"},"y":{"field":"v","type":"quantitative"},"text":{"field":"t"}}}
]},
{"width":1311,"height":916,
"title":{"text":"(b)","anchor":"start","frame":"group","dx":49,"offset":0,"fontSize":40},
"layer":[
{"data":{"name":"lines"},"transform":[{"window":[{"op":"row_number","as":"id"}]},{"flatten":["X","Y","Z"]},{"window":[{"op":"row_number","as":"s"}]},{"calculate":"(datum.X-1.6)/2.2","as":"u"},{"calculate":"datum.Y/4.12","as":"v"},{"calculate":"(datum.Z-80)/7920","as":"w"},{"calculate":"1+0.29657*datum.u+0.18898*datum.v-0.1*datum.w","as":"d"},{"calculate":"(187.4*datum.u+1061.7*datum.v+1830.6-201.5*datum.w)/datum.d","as":"px"},{"calculate":"(-52.1*datum.u-15.8*datum.v+934.2-757.6*datum.w)/datum.d","as":"py"}],
"encoding":{"x":{"field":"px","type":"quantitative","scale":{"domain":[1400,2711],"nice":false,"zero":false},"axis":null},"y":{"field":"py","type":"quantitative","scale":{"domain":[67,983],"reverse":true,"nice":false,"zero":false},"axis":null},"detail":{"field":"id"},"order":{"field":"s"}},
"layer":[
{"transform":[{"filter":{"field":"k","oneOf":["wl","wr","wf"]}}],"mark":{"type":"line","interpolate":"linear-closed","strokeWidth":0},"encoding":{"fill":{"field":"k","type":"nominal","scale":{"domain":["wl","wr","wf"],"range":["#808080","#bdbdbd","#ffff00"]},"legend":null}}},
{"transform":[{"filter":"datum.k=='g'"}],"mark":{"type":"line","stroke":"#555","strokeWidth":1.2,"strokeOpacity":0.7}},
{"transform":[{"filter":"datum.k=='d'"}],"mark":{"type":"line","stroke":"#111","strokeWidth":1.3,"strokeDash":[2,5]}},
{"transform":[{"filter":"datum.k=='a'"}],"mark":{"type":"line","stroke":"#111","strokeWidth":2.5}}
]},
{"data":{"name":"surface"},"transform":[
{"window":[{"op":"lead","field":"z","as":"zu"},{"op":"lead","field":"x","as":"xn"}],"groupby":["y"],"sort":[{"field":"x","order":"ascending"}]},
{"window":[{"op":"lead","field":"z","as":"zv"},{"op":"lead","field":"y","as":"yn"}],"groupby":["x"],"sort":[{"field":"y","order":"ascending"}]},
{"window":[{"op":"lead","field":"zv","as":"zuv"}],"groupby":["y"],"sort":[{"field":"x","order":"ascending"}]},
{"filter":"isValid(datum.zuv)&&isValid(datum.zu)&&isValid(datum.zv)"},
{"calculate":"[0,1,2,3]","as":"q"},{"flatten":["q"]},
{"calculate":"datum.x+'_'+datum.y","as":"id"},
{"calculate":"datum.q==1||datum.q==2?datum.xn:datum.x","as":"X"},
{"calculate":"datum.q>=2?datum.yn:datum.y","as":"Y"},
{"calculate":"datum.q==0?datum.z:datum.q==1?datum.zu:datum.q==2?datum.zuv:datum.zv","as":"Z"},
{"calculate":"(datum.X-1.6)/2.2","as":"u"},{"calculate":"datum.Y/4.12","as":"v"},{"calculate":"(datum.Z-80)/7920","as":"w"},{"calculate":"1+0.29657*datum.u+0.18898*datum.v-0.1*datum.w","as":"d"},{"calculate":"(187.4*datum.u+1061.7*datum.v+1830.6-201.5*datum.w)/datum.d","as":"px"},{"calculate":"(-52.1*datum.u-15.8*datum.v+934.2-757.6*datum.w)/datum.d","as":"py"}],
"mark":{"type":"line","interpolate":"linear-closed","fill":"#14a814","fillOpacity":0.75,"stroke":"#022a02","strokeWidth":1,"strokeOpacity":0.85},
"encoding":{"x":{"field":"px","type":"quantitative"},"y":{"field":"py","type":"quantitative"},"detail":{"field":"id"},"order":{"field":"q"}}},
{"data":{"name":"labels"},"transform":[{"calculate":"(datum.X-1.6)/2.2","as":"u"},{"calculate":"datum.Y/4.12","as":"v"},{"calculate":"(datum.Z-80)/7920","as":"w"},{"calculate":"1+0.29657*datum.u+0.18898*datum.v-0.1*datum.w","as":"d"},{"calculate":"(187.4*datum.u+1061.7*datum.v+1830.6-201.5*datum.w)/datum.d","as":"px"},{"calculate":"(-52.1*datum.u-15.8*datum.v+934.2-757.6*datum.w)/datum.d","as":"py"}],
"encoding":{"x":{"field":"px","type":"quantitative"},"y":{"field":"py","type":"quantitative"},"text":{"field":"t"}},
"layer":[
{"transform":[{"filter":"datum.a=='z'"}],"mark":{"type":"text","fontSize":32,"color":"#444","dx":76,"dy":8,"align":"center","baseline":"middle"}},
{"transform":[{"filter":"datum.a=='x'"}],"mark":{"type":"text","fontSize":31,"color":"#444","dx":-60,"dy":5,"align":"center","baseline":"middle"}},
{"transform":[{"filter":"datum.a=='y'"}],"mark":{"type":"text","fontSize":31,"color":"#444","dx":94,"dy":25,"align":"center","baseline":"middle"}},
{"transform":[{"filter":"datum.a=='tx'"}],"mark":{"type":"text","fontSize":36,"color":"#222","angle":42,"align":"center","baseline":"middle"}},
{"transform":[{"filter":"datum.a=='ty'"}],"mark":{"type":"text","fontSize":36,"color":"#222","angle":344,"align":"center","baseline":"middle"}},
{"transform":[{"filter":"datum.a=='tz'"}],"mark":{"type":"text","fontSize":32,"color":"#111","angle":270,"align":"center","baseline":"middle"}},
{"transform":[{"filter":"datum.a=='ts'"}],"mark":{"type":"text","fontSize":21,"color":"#111","angle":270,"align":"center","baseline":"middle"}}
]}
]}
]}
